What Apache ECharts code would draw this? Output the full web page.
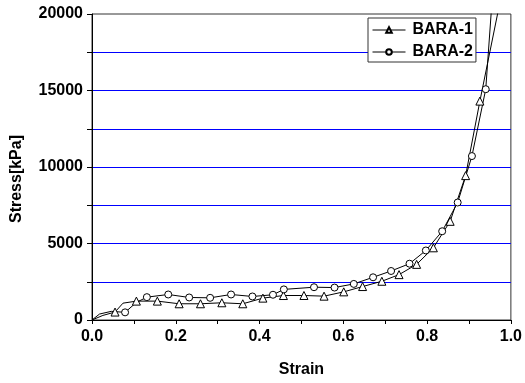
<!DOCTYPE html>
<html>
<head>
<meta charset="utf-8">
<script src="https://cdn.jsdelivr.net/npm/echarts@6/dist/echarts.min.js"></script>
<style>
	html, body { margin: 0; padding: 0; background: #fff; }
	#stressChart { width: 525px; height: 383px; }
</style>
</head>
<body>
<div id="stressChart"></div>
<script>
// BARA-1 (triangles)
var strain1 = [0, 0.026, 0.055, 0.074, 0.106, 0.156, 0.208, 0.259, 0.310, 0.360, 0.408, 0.457, 0.506, 0.554, 0.601, 0.646, 0.692, 0.733, 0.775, 0.815, 0.855, 0.892, 0.926, 0.983];
var stress1 = [0, 300, 519, 1100, 1234, 1234, 1061, 1061, 1126, 1061, 1429, 1600, 1602, 1558, 1840, 2186, 2532, 2965, 3636, 4719, 6450, 9437, 14307, 22000];
var mark1 = [0, 0, 1, 0, 1, 1, 1, 1, 1, 1, 1, 1, 1, 1, 1, 1, 1, 1, 1, 1, 1, 1, 1, 0];
// BARA-2 (circles)
var strain2 = [0, 0.018, 0.046, 0.079, 0.106, 0.131, 0.182, 0.232, 0.282, 0.332, 0.383, 0.432, 0.458, 0.530, 0.579, 0.625, 0.671, 0.714, 0.758, 0.797, 0.836, 0.873, 0.907, 0.940, 0.958];
var stress2 = [0, 390, 565, 500, 1150, 1494, 1667, 1472, 1450, 1667, 1537, 1650, 2000, 2143, 2121, 2359, 2792, 3203, 3680, 4545, 5800, 7680, 10714, 15084, 22000];
var mark2 = [0, 0, 0, 1, 0, 1, 1, 1, 1, 1, 1, 1, 1, 1, 1, 1, 1, 1, 1, 1, 1, 1, 1, 1, 0];
var seriesNames = ['BARA-1', 'BARA-2'];
var xTicks = [0, 0.2, 0.4, 0.6, 0.8, 1.0];
var yLabelStep = 5000;

var StressChart = {
	font: 'Arial, "Liberation Sans", sans-serif',
	init: function() {
		this.chart();
	},
	//组装数据，无标记的点不画符号
	buildData: function(xs, ys, marks) {
		var out = [];
		for(var i = 0; i < xs.length; i++) {
			var item = { value: [xs[i], ys[i]] };
			if(!marks[i]) {
				item.symbol = 'none';
			}
			out.push(item);
		}
		return out;
	},
	chart: function() {
		var self = this;
		var myChart = echarts.init(document.getElementById('stressChart'));
		var option = {
			animation: false,
			textStyle: { fontFamily: self.font },
			grid: {
				left: 92,
				right: 13,
				top: 14,
				bottom: 61,
				show: true,
				borderColor: '#333',
				borderWidth: 1
			},
			legend: {
				data: seriesNames,
				orient: 'vertical',
				left: 368,
				top: 18,
				padding: [4, 3, 2, 4],
				itemGap: 6,
				itemWidth: 33,
				itemHeight: 7,
				backgroundColor: '#fff',
				borderColor: '#333',
				borderWidth: 1,
				borderRadius: 0,
				lineStyle: { width: 1 },
				textStyle: {
					fontFamily: self.font,
					fontSize: 16,
					fontWeight: 'bold',
					color: '#000',
					lineHeight: 16,
					padding: [0, 0, 0, 2]
				}
			},
			xAxis: {
				type: 'value',
				min: 0,
				max: 1,
				interval: 0.2,
				name: 'Strain',
				nameLocation: 'middle',
				nameGap: 42,
				nameTextStyle: {
					fontFamily: self.font,
					fontSize: 16,
					fontWeight: 'bold',
					color: '#000'
				},
				axisLine: { lineStyle: { color: '#000', width: 1 } },
				axisTick: { show: true, length: 4, lineStyle: { color: '#000' } },
				minorTick: { show: true, splitNumber: 2, length: 4, lineStyle: { color: '#000' } },
				splitLine: { show: false },
				axisLabel: {
					margin: 9,
					fontFamily: self.font,
					fontSize: 16,
					fontWeight: 'bold',
					color: '#000',
					formatter: function(v) {
						return xTicks.indexOf(Math.round(v * 10) / 10) >= 0 ? v.toFixed(1) : '';
					}
				}
			},
			yAxis: {
				type: 'value',
				min: 0,
				max: 20000,
				interval: 2500,
				name: 'Stress[kPa]',
				nameLocation: 'middle',
				nameGap: 67,
				nameTextStyle: {
					fontFamily: self.font,
					fontSize: 16,
					fontWeight: 'bold',
					color: '#000',
					padding: [0, 24, 0, 0]
				},
				axisLine: { show: true, lineStyle: { color: '#000', width: 1 } },
				axisTick: { show: true, length: 5, lineStyle: { color: '#000' } },
				splitLine: {
					show: true,
					showMinLine: false,
					showMaxLine: false,
					lineStyle: { color: '#0000ff', width: 1 }
				},
				axisLabel: {
					margin: 9,
					fontFamily: self.font,
					fontSize: 16,
					fontWeight: 'bold',
					color: '#000',
					formatter: function(v) {
						return v % yLabelStep === 0 ? String(v) : '';
					}
				}
			},
			series: [{
				name: seriesNames[0],
				type: 'line',
				symbol: 'triangle',
				symbolSize: 8,
				showAllSymbol: true,
				clip: true,
				lineStyle: { color: '#000', width: 1 },
				itemStyle: { color: '#fff', borderColor: '#000', borderWidth: 1 },
				data: self.buildData(strain1, stress1, mark1)
			}, {
				name: seriesNames[1],
				type: 'line',
				symbol: 'circle',
				symbolSize: 7,
				showAllSymbol: true,
				clip: true,
				lineStyle: { color: '#000', width: 1 },
				itemStyle: { color: '#fff', borderColor: '#000', borderWidth: 1 },
				data: self.buildData(strain2, stress2, mark2)
			}]
		};
		myChart.setOption(option, true);
	}
};
StressChart.init();
</script>
</body>
</html>
